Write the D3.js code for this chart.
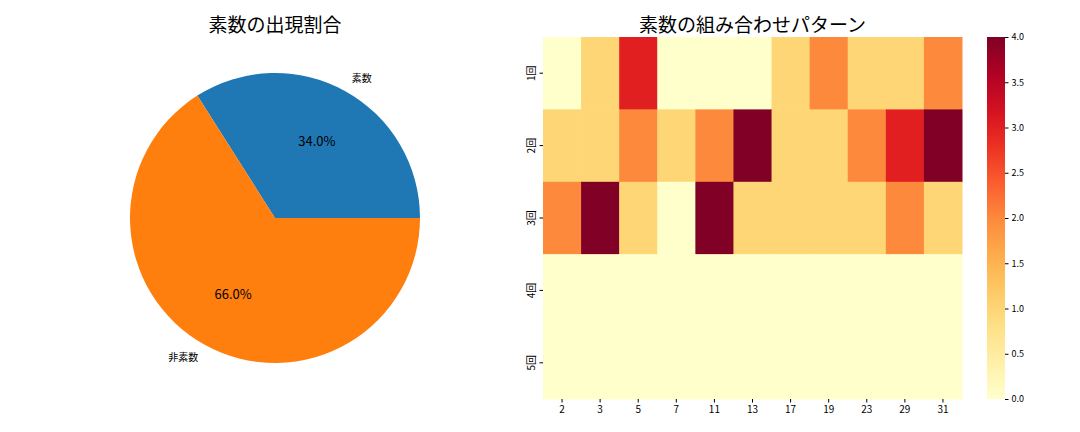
<!DOCTYPE html>
<html><head><meta charset="utf-8">
<script src="https://cdn.jsdelivr.net/npm/d3@7"></script>
<style>body{margin:0;background:#fff}text{font-family:"Noto Sans CJK JP","Noto Sans",sans-serif}</style>
</head><body><svg id="c" width="1080" height="432"></svg>
<script>
const pieLabels = ['素数', '非素数'];
const pieValues = [34, 66];
const pieColors = ['#1f77b4', '#ff7f0e'];
const primes = ['2', '3', '5', '7', '11', '13', '17', '19', '23', '29', '31'];
const rows = ['1回', '2回', '3回', '4回', '5回'];
const counts = [
  [0, 1, 3, 0, 0, 0, 1, 2, 1, 1, 2],
  [1, 1, 2, 1, 2, 4, 1, 1, 2, 3, 4],
  [2, 4, 1, 0, 4, 1, 1, 1, 1, 2, 1],
  [0, 0, 0, 0, 0, 0, 0, 0, 0, 0, 0],
  [0, 0, 0, 0, 0, 0, 0, 0, 0, 0, 0]
];
const cbTicks = [0, 0.5, 1, 1.5, 2, 2.5, 3, 3.5, 4];

const $svg = d3.select('#c');

// pie
const cx = 275, cy = 218, r = 145;
const total = d3.sum(pieValues);
let start = 0;
const $pie = $svg.append('g').attr('transform', `translate(${cx},${cy})`);
pieValues.forEach((v, i) => {
  const frac = v / total;
  // matplotlib: counterclockwise from 3 o'clock; d3 arc angles clockwise from 12
  const a0 = Math.PI / 2 - start * 2 * Math.PI;
  const a1 = Math.PI / 2 - (start + frac) * 2 * Math.PI;
  $pie.append('path')
    .attr('d', d3.arc()({ innerRadius: 0, outerRadius: r, startAngle: a1, endAngle: a0 }))
    .attr('fill', pieColors[i]);
  const mid = (start + frac / 2) * 2 * Math.PI;
  $pie.append('text').attr('x', 0.6 * r * Math.cos(mid)).attr('y', -0.6 * r * Math.sin(mid))
    .attr('text-anchor', 'middle').attr('dy', '0.35em').attr('font-size', 13).text(v.toFixed(1) + '%');
  $pie.append('text').attr('x', 1.1 * r * Math.cos(mid)).attr('y', -1.1 * r * Math.sin(mid))
    .attr('text-anchor', Math.cos(mid) > 0 ? 'start' : 'end').attr('dy', '0.35em')
    .attr('font-size', 10).text(pieLabels[i]);
  start += frac;
});
$svg.append('text').attr('x', cx).attr('y', 32).attr('text-anchor', 'middle')
  .attr('font-size', 19).text('素数の出現割合');

// heatmap
const hx0 = 543, hx1 = 962, hy0 = 37, hy1 = 399;
const x = d3.scaleBand().domain(primes).range([hx0, hx1]);
const y = d3.scaleBand().domain(rows).range([hy0, hy1]);
const color = d3.scaleSequential(d3.interpolateYlOrRd).domain([0, 4]);
rows.forEach((rw, i) => primes.forEach((p, j) => {
  $svg.append('rect').attr('x', x(p)).attr('y', y(rw))
    .attr('width', x.bandwidth() + 0.5).attr('height', y.bandwidth() + 0.5)
    .attr('fill', color(counts[i][j]));
}));
$svg.append('g').attr('transform', `translate(0,${hy1})`)
  .call(d3.axisBottom(x).tickSize(3.5)).call(g => g.select('.domain').remove())
  .selectAll('text').attr('font-size', 10);
const $ya = $svg.append('g').attr('transform', `translate(${hx0},0)`)
  .call(d3.axisLeft(y).tickSize(3.5)).call(g => g.select('.domain').remove());
$ya.selectAll('.tick text').attr('font-size', 10).attr('text-anchor', 'middle')
  .attr('transform', 'rotate(-90)').attr('x', 0).attr('y', -12).attr('dy', '0.35em');
$svg.append('text').attr('x', (hx0 + hx1) / 2).attr('y', 32).attr('text-anchor', 'middle')
  .attr('font-size', 19).text('素数の組み合わせパターン');

// colorbar
const bx = 987, bw = 18;
const cbY = d3.scaleLinear().domain([0, 4]).range([hy1, hy0]);
const defs = $svg.append('defs');
const grad = defs.append('linearGradient').attr('id', 'g').attr('x1', 0).attr('y1', 1).attr('x2', 0).attr('y2', 0);
d3.range(0, 1.001, 0.1).forEach(t => grad.append('stop').attr('offset', t).attr('stop-color', color(t * 4)));
$svg.append('rect').attr('x', bx).attr('y', hy0).attr('width', bw).attr('height', hy1 - hy0).attr('fill', 'url(#g)');
$svg.append('g').attr('transform', `translate(${bx + bw},0)`)
  .call(d3.axisRight(cbY).tickValues(cbTicks).tickFormat(d3.format('.1f')).tickSize(3.5))
  .call(g => g.select('.domain').remove())
  .selectAll('text').attr('font-size', 9);
</script></body></html>
